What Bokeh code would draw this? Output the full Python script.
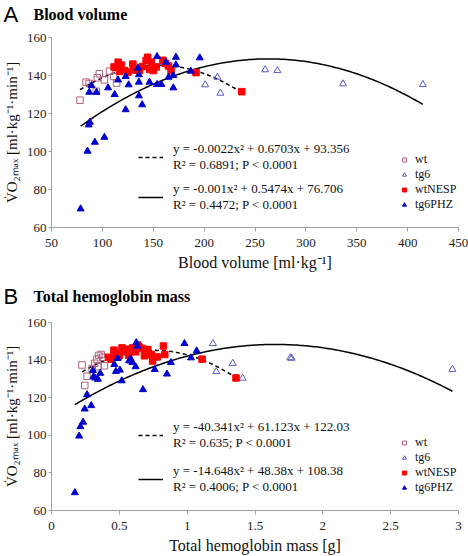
import numpy as np
from bokeh.plotting import figure
from bokeh.layouts import column
from bokeh.models import Range1d, FixedTicker, Legend, LegendItem, Label
from bokeh.embed import file_html
from bokeh.resources import INLINE

# ---------------- Panel A: Blood volume ----------------
A_wt_x = [78, 84, 87, 94, 95, 97, 102, 107, 111, 114]
A_wt_y = [127, 136.5, 135.8, 131.7, 138.8, 140.9, 137.7, 142.3, 139.5, 136]

A_tg6_x = [201, 213, 216, 260, 272, 336.5, 415]
A_tg6_y = [135.1, 139.1, 130.7, 143, 142.6, 135.6, 135.3]

A_nesp_x = [111.5, 113.5, 115.5, 117, 118.5, 122, 125, 130, 131, 133.5, 136.5, 139.5,
            143, 144.5, 146.5, 148, 150, 153, 159.5, 162, 165, 167.5, 192, 237]
A_nesp_y = [144.5, 144.2, 147, 142.2, 145.5, 142.5, 141.8, 146, 143, 142.8, 142.6, 144.7,
            147.9, 149.6, 143.2, 147, 142.6, 144.5, 148, 146.3, 145, 142.5, 141.5, 131.5]

A_phz_x = [78.6, 85.4, 92.6, 102, 87.7, 86.5, 87.1, 89.3, 94.2, 105.6, 112.1, 115.4,
           122.9, 122.9, 125.8, 135.9, 135.9, 135.9, 139.1, 134.9, 146.3, 153.7, 153.7,
           158, 162.5, 165.1, 169.7, 172.3, 172.3, 169.7, 186.9, 195.7]
A_phz_y = [69.8, 100.2, 104.9, 107.5, 115.4, 114.0, 131.2, 134.7, 131.2, 133.5, 130, 137.7,
           139.5, 122, 135.1, 140.4, 136.5, 129.3, 124.6, 144, 136.5, 150, 135.3,
           135.3, 147, 139.1, 133.5, 149.6, 145.6, 140, 142.3, 149.3]

A_x_ticks = [50, 100, 150, 200, 250, 300, 350, 400, 450]
A_y_ticks = [60, 80, 100, 120, 140, 160]
A_eq_wt = "y = -0.0022x\u00b2 + 0.6703x + 93.356\nR\u00b2 = 0.6891; P < 0.0001"
A_eq_tg = "y = -0.001x\u00b2 + 0.5474x + 76.706\nR\u00b2 = 0.4472; P < 0.0001"
A_fit_wt = [-0.00216, 0.6703, 93.356]
A_fit_tg = [-0.00104, 0.5474, 76.706]

# ---------------- Panel B: Total hemoglobin mass ----------------
B_wt_x = [0.225, 0.245, 0.262, 0.30, 0.318, 0.335, 0.349, 0.366, 0.378, 0.39, 0.342]
B_wt_y = [137.4, 126.5, 131.4, 135.5, 138.3, 140.5, 142.5, 143, 141.5, 137, 136.5]

B_tg6_x = [1.19, 1.215, 1.336, 1.409, 1.76, 1.77, 2.955]
B_tg6_y = [148.8, 133.9, 138.3, 130.4, 141.2, 141.0, 135.1]

B_nesp_x = [0.42, 0.44, 0.46, 0.475, 0.49, 0.50, 0.52, 0.535, 0.555, 0.57, 0.60, 0.62,
            0.635, 0.645, 0.67, 0.685, 0.71, 0.735, 0.745, 0.78, 0.825, 0.835, 1.11, 1.36]
B_nesp_y = [141.5, 140.5, 145.3, 143.5, 141.7, 142.6, 146.5, 144.4, 145.8, 142.6, 146.5, 144.4,
            148, 147, 146.2, 142.3, 145.6, 143, 139.5, 141.7, 147.5, 143, 140.5, 130.5]

B_phz_x = [0.172, 0.204, 0.213, 0.233, 0.245, 0.293, 0.262, 0.305, 0.31, 0.322, 0.342, 0.359,
           0.463, 0.475, 0.487, 0.504, 0.518, 0.572, 0.584, 0.596, 0.62, 0.625, 0.633, 0.674,
           0.761, 0.851, 0.88, 0.98, 1.028, 1.07]
B_phz_y = [69.5, 99.6, 104.6, 107, 114, 115.8, 121.6, 134.5, 131.2, 130.5, 129.8, 133,
           137.7, 134, 140.9, 134.7, 129, 139.6, 140.5, 138.8, 136.5, 149.3, 147.4, 124.3,
           135, 132.6, 138.7, 148.8, 141.2, 144.9]

B_x_ticks = [0, 0.5, 1, 1.5, 2, 2.5, 3]
B_x_tick_labels = ["0", "0.5", "1", "1.5", "2", "2.5", "3"]
B_y_ticks = [60, 80, 100, 120, 140, 160]
B_eq_wt = "y = -40.341x\u00b2 + 61.123x + 122.03\nR\u00b2 = 0.635; P < 0.0001"
B_eq_tg = "y = -14.648x\u00b2 + 48.38x + 108.38\nR\u00b2 = 0.4006; P < 0.0001"
B_fit_wt = [-40.341, 61.123, 122.03]
B_fit_tg = [-14.648, 48.38, 108.38]

groups = ["wt", "tg6", "wtNESP", "tg6PHZ"]

SERIF = "Liberation Serif"
SANS = "Liberation Sans"
C_WT = "#b0607a"
C_TG6 = "#5a5ad0"
C_NESP = "#ff0000"
C_PHZ = "#0000cc"
Y_LABEL = "V\u0307O\u2082\u2098\u2090\u2093 [ml\u00b7kg\u207b\u00b9\u00b7min\u207b\u00b9]"
W = 468


def title_row(height, letter, title, text_y):
    t = figure(width=W, height=height, output_backend="svg", toolbar_location=None,
               x_range=Range1d(0, W), y_range=Range1d(0, height),
               x_axis_location=None, y_axis_location=None, frame_align=False,
               min_border=0, min_border_left=0, min_border_right=0,
               min_border_top=0, min_border_bottom=0)
    t.outline_line_color = None
    t.grid.visible = False
    t.add_layout(Label(x=3, y=text_y, text=letter, text_font=SANS,
                       text_font_size="22px", text_baseline="middle", text_color="black"))
    t.add_layout(Label(x=33, y=text_y, text=title, text_font=SERIF,
                       text_font_size="16px", text_font_style="bold",
                       text_baseline="middle", text_color="black"))
    return t


def panel(height, top, bottom, xr, xticks, yticks, xlabel, data, fits, eqs, eq_loc,
          mk_loc, eq_spacing, overrides=None):
    p = figure(width=W, height=height, output_backend="svg", toolbar_location=None,
               x_range=Range1d(*xr), y_range=Range1d(60, 160), frame_align=False,
               min_border_left=48, min_border_right=10, min_border_top=top,
               min_border_bottom=bottom, x_axis_label=xlabel, y_axis_label=Y_LABEL)
    p.outline_line_color = None
    p.grid.visible = False
    p.xaxis.ticker = FixedTicker(ticks=xticks)
    p.yaxis.ticker = FixedTicker(ticks=yticks)
    if overrides:
        p.xaxis.major_label_overrides = overrides
    for ax in (p.xaxis, p.yaxis):
        ax.axis_line_color = "#a0a0a0"
        ax.major_tick_line_color = "#a0a0a0"
        ax.minor_tick_line_color = None
        ax.major_tick_in = 0
        ax.major_label_text_font = SERIF
        ax.major_label_text_font_size = "13px"
        ax.major_label_text_color = "#222222"
        ax.axis_label_text_font = SERIF
        ax.axis_label_text_font_style = "normal"
        ax.axis_label_text_color = "#111111"
    p.xaxis.axis_label_text_font_size = "16px"
    p.yaxis.axis_label_text_font_size = "15px"
    p.xaxis.major_tick_out = 4
    p.yaxis.major_tick_out = 3
    p.yaxis.major_label_standoff = 2
    p.yaxis.axis_label_standoff = 4
    p.xaxis.major_label_standoff = 7
    p.xaxis.axis_label_standoff = 4

    (wx, wy), (tx, ty), (nx, ny), (hx, hy) = data
    wt_all = wx + nx
    tg_all = tx + hx
    xs1 = np.linspace(min(wt_all), max(wt_all), 120)
    xs2 = np.linspace(min(tg_all), max(tg_all), 200)
    r_d = p.line(xs1, np.polyval(fits[0], xs1), line_color="black", line_width=1.5,
                 line_dash="4 3")
    r_s = p.line(xs2, np.polyval(fits[1], xs2), line_color="black", line_width=1.5)

    r_wt = p.scatter(wx, wy, marker="square", size=6.5, fill_color=None, line_color=C_WT,
                     line_width=1)
    r_tg6 = p.scatter(tx, ty, marker="triangle", size=7, fill_color=None, line_color=C_TG6,
                      line_width=1)
    r_nesp = p.scatter(nx, ny, marker="square", size=6.5, fill_color=C_NESP, line_color=C_NESP)
    r_phz = p.scatter(hx, hy, marker="triangle", size=7, fill_color=C_PHZ, line_color=C_PHZ)

    leg_eq = Legend(items=[LegendItem(label=eqs[0], renderers=[r_d]),
                           LegendItem(label=eqs[1], renderers=[r_s])],
                    location=eq_loc, glyph_width=25, glyph_height=20, label_standoff=10,
                    spacing=eq_spacing, padding=0, margin=0,
                    border_line_color=None, background_fill_alpha=0,
                    label_text_font=SERIF, label_text_font_size="13px",
                    label_text_color="#111111", label_text_line_height=1.0)
    leg_mk = Legend(items=[LegendItem(label=g, renderers=[r])
                           for g, r in zip(groups, [r_wt, r_tg6, r_nesp, r_phz])],
                    location=mk_loc, glyph_width=10, glyph_height=15, label_height=15,
                    label_standoff=6, spacing=0, padding=0, margin=0,
                    border_line_color=None, background_fill_alpha=0,
                    label_text_font=SERIF, label_text_font_size="12px",
                    label_text_color="#111111")
    p.add_layout(leg_eq)
    p.add_layout(leg_mk)
    return p


# page layout (Bokeh's standalone page has no body margin): 28 + 253 + 28 + 247 = 556
tA = title_row(28, "A", "Blood volume", 14)
pA = panel(253, 9, 54, (50, 450), A_x_ticks, A_y_ticks,
           "Blood volume [ml\u00b7kg\u207b\u00b9]",
           [(A_wt_x, A_wt_y), (A_tg6_x, A_tg6_y), (A_nesp_x, A_nesp_y), (A_phz_x, A_phz_y)],
           [A_fit_wt, A_fit_tg], [A_eq_wt, A_eq_tg], (87, 14), (348, 15), 8)

tB = title_row(28, "B", "Total hemoglobin mass", 13)
pB = panel(247, 13, 44, (0, 3), B_x_ticks, B_y_ticks,
           "Total hemoglobin mass [g]",
           [(B_wt_x, B_wt_y), (B_tg6_x, B_tg6_y), (B_nesp_x, B_nesp_y), (B_phz_x, B_phz_y)],
           [B_fit_wt, B_fit_tg], [B_eq_wt, B_eq_tg], (87, 15), (348, 15), 12,
           overrides={float(t): s for t, s in zip(B_x_ticks, B_x_tick_labels)})

layout = column(tA, pA, tB, pB, spacing=0)
open("out.html", "w").write(file_html(layout, INLINE))
